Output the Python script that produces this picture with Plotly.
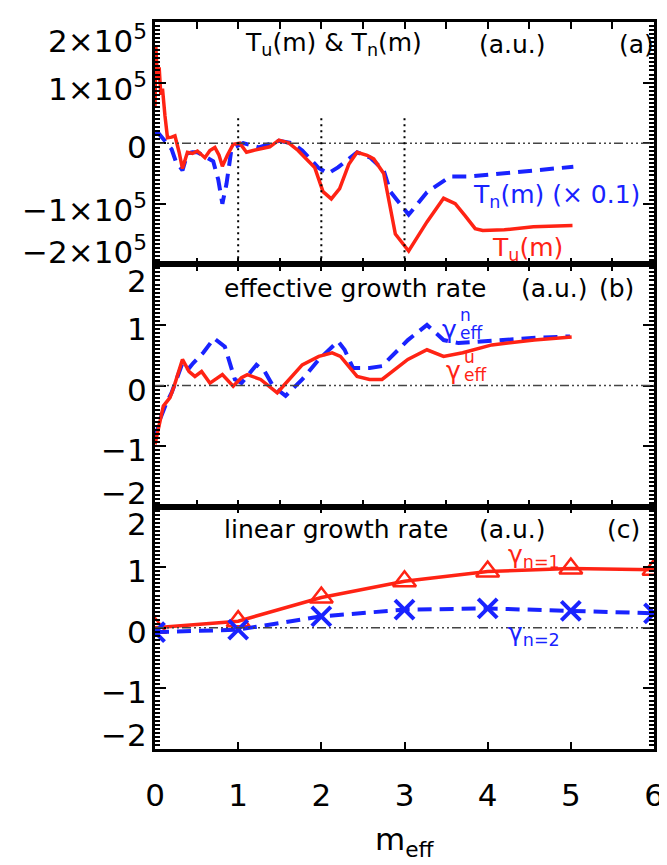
import plotly.graph_objects as go
from plotly.subplots import make_subplots

# ---------------- data ----------------
# panel (a): T_u(m) and T_n(m) (x 0.1)
m_tu = [0.0, 0.01, 0.03, 0.05, 0.07, 0.09, 0.12, 0.15, 0.2, 0.24, 0.29, 0.33, 0.39, 0.45, 0.51,
        0.56, 0.6, 0.66, 0.72, 0.77, 0.81, 0.87, 0.94, 1.02, 1.1, 1.18, 1.25, 1.38, 1.49, 1.61,
        1.72, 1.81, 1.92, 2.02, 2.12, 2.22, 2.33, 2.43, 2.55, 2.63, 2.75, 2.82, 2.89, 3.05, 3.27,
        3.47, 3.61, 3.73, 3.85, 3.94, 4.2, 4.55, 5.02]
t_u = [60000, 160000, 105000, 125000, 80000, 90000, 45000, 9000, 10000, 12000, -15000, -42000,
       -15000, -17000, -13000, -20000, -24000, -12000, -7000, -20000, -38000, -20000, -2000, 0,
       -15000, -12000, -10000, -6000, 5000, 0, -12000, -24000, -40000, -80000, -92000, -75000,
       -35000, -15000, -20000, -26000, -50000, -100000, -150000, -178000, -130000, -91000,
       -100000, -120000, -141000, -144000, -143000, -138000, -136000]
m_tn = [0.0, 0.05, 0.1, 0.15, 0.2, 0.25, 0.33, 0.39, 0.45, 0.51, 0.6, 0.7, 0.76, 0.81, 0.86,
        0.92, 1.06, 1.25, 1.49, 1.65, 1.77, 1.96, 2.08, 2.2, 2.43, 2.59, 2.75, 2.83, 2.9, 3.05,
        3.27, 3.55, 3.79, 4.03, 4.51, 5.03]
t_n = [17000, 15000, 7000, -2000, -10000, -30000, -45000, -17000, -15000, -15000, -22000, -30000,
       -60000, -100000, -67000, -9000, 0, -7000, 4000, 0, -12000, -40000, -50000, -40000, -15000,
       -24000, -45000, -80000, -92000, -118000, -81000, -55000, -55000, -52000, -45000, -39000]
guide_m = [1, 2, 3]
guide_top = 43000

# panel (b): effective growth rate
m_gu = [0, 0.04, 0.10, 0.18, 0.23, 0.33, 0.41, 0.48, 0.56, 0.66, 0.81, 0.94, 1.04, 1.11, 1.27,
        1.47, 1.62, 1.77, 1.97, 2.13, 2.23, 2.43, 2.58, 2.73, 3.04, 3.27, 3.47, 3.70, 4.05, 4.56, 5.01]
g_u = [-0.97, -0.72, -0.34, -0.2, -0.01, 0.43, 0.23, 0.15, 0.23, 0.04, 0.18, -0.01, 0.13, 0.18,
       0.10, -0.12, 0.10, 0.34, 0.48, 0.54, 0.48, 0.15, 0.10, 0.10, 0.43, 0.59, 0.48, 0.54, 0.67,
       0.75, 0.80]
m_gn = [0, 0.06, 0.14, 0.2, 0.33, 0.4, 0.46, 0.58, 0.71, 0.84, 0.96, 1.04, 1.22, 1.32, 1.42, 1.57,
        1.77, 1.97, 2.2, 2.28, 2.38, 2.58, 2.73, 3.04, 3.27, 3.47, 3.65, 3.95, 4.2, 4.61, 4.99]
g_n = [-0.89, -0.56, -0.28, -0.12, 0.37, 0.27, 0.37, 0.54, 0.78, 0.64, 0.10, 0.04, 0.34, 0.23,
       -0.01, -0.17, 0.10, 0.43, 0.73, 0.59, 0.29, 0.29, 0.32, 0.75, 1.0, 0.75, 0.70, 0.73, 0.75,
       0.79, 0.81]

# panel (c): linear growth rate
m_lin = [0, 1, 2, 3, 4, 5, 6]
g_n1 = [0.0, 0.11, 0.5, 0.77, 0.93, 0.98, 0.96]
g_n2 = [-0.07, -0.03, 0.19, 0.30, 0.32, 0.28, 0.24]

# tick labels
ytick_a_vals = [-200000, -100000, 0, 100000, 200000]
ytick_a_text = ["−2×10<sup>5</sup>", "−1×10<sup>5</sup>", "0", "1×10<sup>5</sup>", "2×10<sup>5</sup>"]
ytick_bc_vals = [-2, -1, 0, 1, 2]
ytick_bc_text = ["−2", "−1", "0", "1", "2"]
xtick_vals = [0, 1, 2, 3, 4, 5, 6]
xtick_text = ["0", "1", "2", "3", "4", "5", "6"]

# ---------------- style ----------------
RED = "rgb(255,35,20)"
BLUE = "rgb(25,35,255)"
FONT = "DejaVu Sans"
TICKFONT = 31
TXT = 25
BLUE_DASH = "14px,8px"
ZERO_DASH = "9px,3px,2px,3px,2px,3px,2px,3px"

fig = make_subplots(rows=3, cols=1, vertical_spacing=0)

# panel a
fig.add_trace(go.Scatter(x=m_tn, y=t_n, mode="lines",
                         line=dict(color=BLUE, width=4, dash=BLUE_DASH)), 1, 1)
fig.add_trace(go.Scatter(x=m_tu, y=t_u, mode="lines",
                         line=dict(color=RED, width=3.5)), 1, 1)
# panel b
fig.add_trace(go.Scatter(x=m_gn, y=g_n, mode="lines",
                         line=dict(color=BLUE, width=4, dash=BLUE_DASH)), 2, 1)
fig.add_trace(go.Scatter(x=m_gu, y=g_u, mode="lines",
                         line=dict(color=RED, width=3.5)), 2, 1)
# panel c
fig.add_trace(go.Scatter(x=m_lin, y=g_n1, mode="lines+markers",
                         line=dict(color=RED, width=3.5),
                         marker=dict(symbol="triangle-up-open", size=20, color=RED,
                                     line=dict(color=RED, width=2.5))), 3, 1)
fig.add_trace(go.Scatter(x=m_lin, y=g_n2, mode="lines+markers",
                         line=dict(color=BLUE, width=4, dash=BLUE_DASH),
                         marker=dict(symbol="x-thin-open", size=19, color=BLUE,
                                     line=dict(color=BLUE, width=4))), 3, 1)

# zero reference lines
for r in (1, 2, 3):
    fig.add_shape(type="line", x0=0, x1=6, y0=0, y1=0, xref=f"x{'' if r == 1 else r}",
                  yref=f"y{'' if r == 1 else r}",
                  line=dict(color="#444", width=1.5, dash=ZERO_DASH))
# dotted guides in panel a
for gm in guide_m:
    fig.add_shape(type="line", x0=gm, x1=gm, y0=-200000, y1=guide_top, xref="x", yref="y",
                  line=dict(color="black", width=2, dash="2px,4px"))

# axes
for r in (1, 2, 3):
    minor_x = dict(ticks="inside", dtick=0.5, ticklen=7, tickwidth=2, tickcolor="black") if r < 3 else dict(ticks="")
    fig.update_xaxes(row=r, col=1, range=[0, 6], showgrid=False, zeroline=False,
                     showline=True, linewidth=2.5, linecolor="black", mirror="ticks",
                     ticks="inside", ticklen=7, tickwidth=2, tickcolor="black",
                     tickvals=xtick_vals, ticktext=xtick_text,
                     showticklabels=(r == 3),
                     tickfont=dict(family=FONT, size=TICKFONT, color="black"),
                     ticklabelstandoff=17,
                     minor=minor_x)
    if r == 1:
        rng, dt, mdt = [-200000, 200000], 100000, 100000 / 15
    else:
        rng, dt, mdt = [-2, 2], 1, 1 / 15
    fig.update_yaxes(row=r, col=1, range=rng, showgrid=False, zeroline=False,
                     showline=True, linewidth=2.5, linecolor="black", mirror="ticks",
                     ticks="inside", ticklen=11, tickwidth=2, tickcolor="black",
                     tick0=0, dtick=dt, showticklabels=False,
                     minor=dict(ticks="inside", tick0=0, dtick=mdt, ticklen=5, tickwidth=1.5,
                                tickcolor="black"))

# y tick labels as text next to the axis
label_shift = {0: 14, 4: -17}
for r in (1, 2, 3):
    vals = ytick_a_vals if r == 1 else ytick_bc_vals
    texts = ytick_a_text if r == 1 else ytick_bc_text
    sfx = "" if r == 1 else str(r)
    for i, (v, t) in enumerate(zip(vals, texts)):
        fig.add_annotation(x=0, y=v, xref=f"x{sfx} domain", yref=f"y{sfx}", text=t,
                           showarrow=False, xanchor="right", yanchor="middle",
                           xshift=-6, yshift=label_shift.get(i, -4),
                           font=dict(family=FONT, size=TICKFONT, color="black"))


def txt(x, y, text, row, color="black", size=TXT):
    sfx = "" if row == 1 else str(row)
    fig.add_annotation(x=x, y=y, xref=f"x{sfx}", yref=f"y{sfx}", text=text, showarrow=False,
                       xanchor="left", yanchor="middle",
                       font=dict(family=FONT, size=size, color=color))


# panel titles
txt(1.06, 163000, "T<sub>u</sub>(m) &amp; T<sub>n</sub>(m)", 1)
txt(3.87, 163000, "(a.u.)", 1)
txt(5.56, 163000, "(a)", 1)
txt(0.80, 1.6, "effective growth rate", 2)
txt(4.38, 1.6, "(a.u.)", 2)
txt(5.32, 1.6, "(b)", 2)
txt(0.80, 1.63, "linear growth rate", 3)
txt(3.87, 1.63, "(a.u.)", 3)
txt(5.41, 1.63, "(c)", 3)

# curve labels
txt(3.80, -88000, "T<sub>n</sub>(m) (× 0.1)", 1, BLUE)
txt(4.03, -174000, "T<sub>u</sub>(m)", 1, RED)
txt(3.43, 0.92, "γ", 2, BLUE)
txt(3.64, 1.16, "n", 2, BLUE, 17)
txt(3.64, 0.86, "eff", 2, BLUE, 17)
txt(3.48, 0.24, "γ", 2, RED)
txt(3.69, 0.47, "u", 2, RED, 17)
txt(3.69, 0.17, "eff", 2, RED, 17)
txt(4.22, 1.18, "γ<sub>n=1</sub>", 3, RED)
txt(4.22, -0.10, "γ<sub>n=2</sub>", 3, BLUE)

# x axis title
fig.add_annotation(x=3, y=0, xref="x3", yref="y3 domain", text="m<sub>eff</sub>",
                   showarrow=False, xanchor="center", yanchor="middle", yshift=-92,
                   font=dict(family=FONT, size=TICKFONT, color="black"))

fig.update_layout(width=667, height=865, showlegend=False,
                  paper_bgcolor="white", plot_bgcolor="white",
                  margin=dict(l=147, r=11, t=11, b=124))

fig.write_html("out.html")
